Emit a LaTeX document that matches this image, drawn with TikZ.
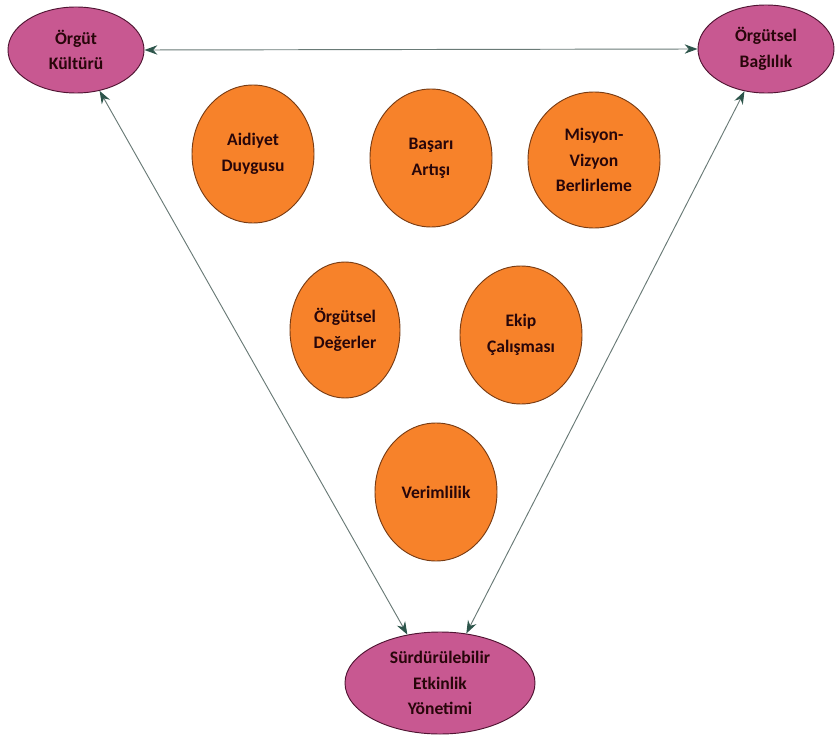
\documentclass[tikz,border=0pt]{standalone}
\usepackage{fontspec}
\setmainfont{Carlito}
\usepackage{tikz}
\usetikzlibrary{arrows.meta,shapes.geometric}
\definecolor{pinkfill}{RGB}{200,88,145}
\definecolor{pinkline}{RGB}{80,20,50}
\definecolor{orangefill}{RGB}{247,130,42}
\definecolor{orangeline}{RGB}{120,60,20}
\definecolor{linkcol}{RGB}{105,122,118}
\definecolor{tipcol}{RGB}{45,85,75}
\definecolor{textcol}{RGB}{40,6,10}

\begin{document}
\begin{tikzpicture}[x=0.03cm,y=-0.03cm,
    outer/.style={ellipse, draw=pinkline, fill=pinkfill, thick, inner sep=0pt,
      align=center, text=textcol, font=\fontsize{15}{22}\selectfont\bfseries},
    inner/.style={ellipse, draw=orangeline, fill=orangefill, thick, inner sep=0pt,
      align=center, text=textcol, font=\fontsize{15}{22}\selectfont\bfseries,
      minimum width=3.66cm, minimum height=4.14cm},
    link/.style={linkcol, thick,
      {Stealth[length=11pt,width=8pt,color=tipcol]}-{Stealth[length=11pt,width=8pt,color=tipcol]}}]
  \useasboundingbox (0,0) rectangle (837,736);
  % three corner ellipses
  \node[outer, minimum width=4.08cm, minimum height=2.58cm] (kultur) at (76,50) {Örgüt\\Kültürü};
  \node[outer, minimum width=4.08cm, minimum height=2.64cm] (baglilik) at (766,49) {Örgütsel\\Bağlılık};
  \node[outer, minimum width=5.7cm, minimum height=3.06cm] (etkinlik) at (440,683) {Sürdürülebilir\\Etkinlik\\Yönetimi};
  % inner factors
  \node[inner] (aidiyet) at (253,154) {Aidiyet\\Duygusu};
  \node[inner] (basari) at (431,158) {Başarı\\Artışı};
  \node[inner, minimum width=3.96cm, minimum height=4.08cm] (misyon) at (594,160) {Misyon-\\Vizyon\\Berlirleme};
  \node[inner, minimum width=3.3cm, minimum height=4.08cm] (degerler) at (345,330) {Örgütsel\\Değerler};
  \node[inner] (ekip) at (521,335) {Ekip\\Çalışması};
  \node[inner] (verim) at (436,492) {Verimlilik};
  % connectors
  \draw[link] (kultur.east) -- (baglilik.west);
  \draw[link] (kultur.300) -- (etkinlik.124);
  \draw[link] (baglilik.243) -- (etkinlik.62);
\end{tikzpicture}
\end{document}
